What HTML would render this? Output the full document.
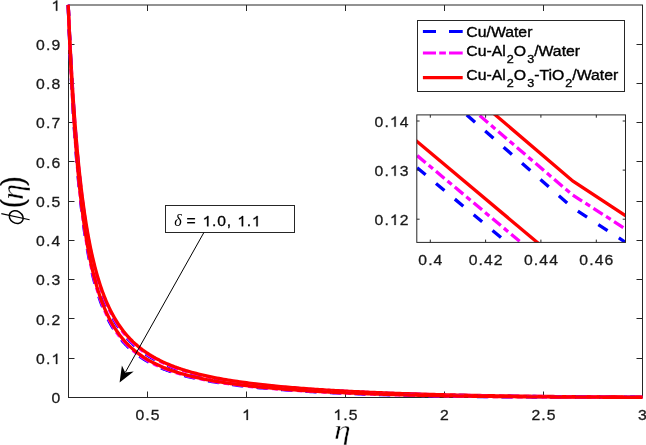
<!DOCTYPE html>
<html><head><meta charset="utf-8"><style>html,body{margin:0;padding:0;background:#fff;overflow:hidden}svg{display:block}</style></head>
<body><div style="will-change:transform"><svg width="646" height="445" viewBox="0 0 646 445">
<rect width="646" height="445" fill="#fff"/>
<defs><clipPath id="cm"><rect x="66.2" y="1.9000000000000004" width="578.1999999999999" height="398.55"/></clipPath><clipPath id="ci"><rect x="416.8" y="114.9" width="208.7" height="127.5"/></clipPath></defs>
<rect x="68.5" y="5" width="574" height="392.5" fill="none" stroke="#262626" stroke-width="1"/>
<path d="M147.5,397.5 v-6 M147.5,5 v6" stroke="#262626"/>
<path d="M246.5,397.5 v-6 M246.5,5 v6" stroke="#262626"/>
<path d="M345.5,397.5 v-6 M345.5,5 v6" stroke="#262626"/>
<path d="M444.5,397.5 v-6 M444.5,5 v6" stroke="#262626"/>
<path d="M543.5,397.5 v-6 M543.5,5 v6" stroke="#262626"/>
<path d="M68.5,358.5 h6 M642.5,358.5 h-6" stroke="#262626"/>
<path d="M68.5,318.5 h6 M642.5,318.5 h-6" stroke="#262626"/>
<path d="M68.5,279.5 h6 M642.5,279.5 h-6" stroke="#262626"/>
<path d="M68.5,240.5 h6 M642.5,240.5 h-6" stroke="#262626"/>
<path d="M68.5,201.5 h6 M642.5,201.5 h-6" stroke="#262626"/>
<path d="M68.5,161.5 h6 M642.5,161.5 h-6" stroke="#262626"/>
<path d="M68.5,122.5 h6 M642.5,122.5 h-6" stroke="#262626"/>
<path d="M68.5,83.5 h6 M642.5,83.5 h-6" stroke="#262626"/>
<path d="M68.5,44.5 h6 M642.5,44.5 h-6" stroke="#262626"/>
<g clip-path="url(#cm)" fill="none" stroke-width="3.30">
<path d="M68.20,4.90 L68.37,8.83 L68.53,12.70 L68.70,16.50 L68.86,20.25 L69.03,23.93 L69.19,27.56 L69.36,31.14 L69.52,34.65 L69.69,38.12 L69.85,41.53 L70.02,44.89 L70.18,48.20 L70.34,51.46 L70.51,54.67 L70.67,57.83 L70.84,60.95 L71.00,64.02 L71.17,67.05 L71.34,70.03 L71.50,72.97 L71.67,75.87 L71.83,78.72 L72.00,81.54 L72.16,84.31 L72.33,87.05 L72.49,89.75 L72.66,92.41 L72.82,95.03 L72.98,97.62 L73.15,100.17 L73.31,102.69 L73.48,105.17 L73.64,107.62 L73.81,110.04 L73.98,112.42 L74.14,114.78 L74.31,117.10 L74.47,119.39 L74.64,121.65 L74.80,123.88 L74.97,126.08 L75.13,128.26 L75.30,130.40 L75.46,132.52 L75.62,134.61 L75.79,136.68 L75.95,138.72 L76.12,140.73 L76.28,142.72 L76.45,144.68 L76.62,146.62 L76.78,148.54 L76.95,150.43 L77.11,152.30 L77.28,154.14 L77.44,155.96 L77.61,157.77 L77.77,159.54 L77.94,161.30 L78.10,163.04 L78.64,168.63 L79.19,174.01 L79.73,179.18 L80.28,184.16 L80.82,188.97 L81.37,193.59 L81.91,198.06 L82.46,202.36 L83.00,206.52 L83.55,210.54 L84.09,214.42 L84.63,218.17 L85.18,221.80 L85.72,225.31 L86.27,228.70 L86.81,231.99 L87.36,235.18 L87.90,238.26 L88.45,241.26 L88.99,244.16 L89.53,246.97 L90.08,249.70 L90.62,252.35 L91.17,254.93 L91.71,257.43 L92.26,259.86 L92.80,262.22 L93.35,264.51 L93.89,266.74 L94.44,268.92 L94.98,271.03 L95.52,273.09 L96.07,275.09 L96.61,277.04 L97.16,278.94 L97.70,280.79 L98.25,282.59 L98.79,284.35 L99.34,286.07 L99.88,287.74 L100.42,289.37 L100.97,290.97 L101.51,292.52 L102.06,294.04 L102.60,295.52 L103.15,296.97 L103.69,298.38 L104.24,299.76 L104.78,301.11 L105.32,302.43 L105.87,303.72 L106.41,304.99 L106.96,306.22 L107.50,307.43 L108.05,308.61 L108.59,309.76 L109.14,310.90 L109.68,312.00 L110.23,313.09 L110.77,314.15 L111.31,315.19 L111.86,316.21 L112.40,317.21 L112.95,318.19 L113.49,319.15 L114.04,320.09 L114.58,321.01 L115.13,321.91 L115.67,322.80 L116.22,323.67 L116.76,324.52 L117.30,325.36 L117.85,326.18 L118.39,326.99 L118.94,327.78 L119.48,328.56 L120.03,329.32 L120.57,330.07 L121.12,330.80 L121.66,331.53 L122.20,332.24 L122.75,332.93 L123.29,333.62 L123.84,334.29 L124.38,334.96 L124.93,335.61 L125.47,336.25 L126.02,336.88 L126.56,337.49 L127.10,338.10 L127.65,338.70 L128.19,339.29 L128.74,339.87 L129.28,340.44 L129.83,341.00 L130.37,341.55 L130.92,342.09 L131.46,342.63 L132.01,343.15 L132.55,343.67 L133.09,344.18 L133.64,344.68 L134.18,345.18 L134.73,345.66 L135.27,346.14 L135.82,346.62 L136.36,347.08 L136.91,347.54 L137.45,347.99 L138.00,348.44 L138.54,348.88 L139.08,349.31 L139.63,349.73 L140.17,350.15 L140.72,350.57 L141.26,350.98 L141.81,351.38 L142.35,351.78 L142.90,352.17 L143.44,352.56 L143.98,352.94 L144.53,353.31 L145.07,353.68 L145.62,354.05 L146.16,354.41 L146.71,354.77 L147.25,355.12 L147.80,355.47 L148.34,355.81 L148.88,356.15 L149.43,356.48 L149.97,356.81 L150.52,357.13 L151.06,357.46 L151.61,357.77 L152.15,358.09 L152.70,358.39 L153.24,358.70 L153.79,359.00 L154.33,359.30 L154.87,359.59 L155.42,359.88 L155.96,360.17 L156.51,360.45 L157.05,360.74 L157.60,361.01 L158.14,361.29 L158.69,361.56 L159.23,361.82 L159.78,362.09 L160.32,362.35 L160.86,362.61 L161.41,362.86 L161.95,363.12 L162.50,363.36 L163.04,363.61 L163.59,363.86 L164.13,364.10 L164.68,364.33 L165.22,364.57 L165.76,364.80 L166.31,365.03 L166.85,365.26 L167.40,365.49 L167.94,365.71 L168.49,365.93 L169.03,366.15 L169.58,366.37 L170.12,366.58 L170.66,366.79 L171.21,367.00 L171.75,367.21 L172.30,367.41 L172.84,367.62 L173.39,367.82 L173.93,368.02 L174.48,368.21 L175.02,368.41 L175.57,368.60 L176.11,368.79 L176.65,368.98 L177.20,369.17 L177.74,369.35 L178.29,369.54 L178.83,369.72 L179.38,369.90 L179.92,370.08 L180.47,370.25 L181.01,370.43 L181.56,370.60 L182.10,370.77 L182.64,370.94 L183.19,371.11 L183.73,371.28 L184.28,371.44 L184.82,371.61 L185.37,371.77 L185.91,371.93 L186.46,372.09 L187.00,372.25 L189.29,372.89 L191.58,373.51 L193.87,374.11 L196.15,374.69 L198.44,375.25 L200.73,375.79 L203.02,376.31 L205.31,376.81 L207.60,377.30 L209.88,377.77 L212.17,378.22 L214.46,378.67 L216.75,379.09 L219.04,379.51 L221.33,379.91 L223.62,380.30 L225.90,380.68 L228.19,381.05 L230.48,381.40 L232.77,381.75 L235.06,382.09 L237.35,382.42 L239.63,382.74 L241.92,383.05 L244.21,383.35 L246.50,383.65 L248.79,383.93 L251.08,384.21 L253.36,384.49 L255.65,384.75 L257.94,385.01 L260.23,385.27 L262.52,385.51 L264.81,385.76 L267.10,385.99 L269.38,386.22 L271.67,386.45 L273.96,386.67 L276.25,386.88 L278.54,387.09 L280.83,387.30 L283.11,387.50 L285.40,387.70 L287.69,387.89 L289.98,388.08 L292.27,388.27 L294.56,388.45 L296.85,388.62 L299.13,388.80 L301.42,388.97 L303.71,389.13 L306.00,389.30 L308.29,389.46 L310.58,389.61 L312.86,389.77 L315.15,389.92 L317.44,390.06 L319.73,390.21 L322.02,390.35 L324.31,390.49 L326.59,390.63 L328.88,390.76 L331.17,390.89 L333.46,391.02 L335.75,391.14 L338.04,391.27 L340.33,391.39 L342.61,391.51 L344.90,391.63 L347.19,391.74 L349.48,391.85 L351.77,391.96 L354.06,392.07 L356.34,392.18 L358.63,392.28 L360.92,392.39 L363.21,392.49 L365.50,392.59 L367.79,392.68 L370.08,392.78 L372.36,392.87 L374.65,392.97 L376.94,393.06 L379.23,393.14 L381.52,393.23 L383.81,393.32 L386.09,393.40 L388.38,393.48 L390.67,393.56 L392.96,393.64 L395.25,393.72 L397.54,393.80 L399.83,393.87 L402.11,393.95 L404.40,394.02 L406.69,394.09 L408.98,394.16 L411.27,394.23 L413.56,394.30 L415.84,394.36 L418.13,394.43 L420.42,394.49 L422.71,394.55 L425.00,394.62 L427.29,394.68 L429.57,394.73 L431.86,394.79 L434.15,394.85 L436.44,394.91 L438.73,394.96 L441.02,395.01 L443.31,395.07 L445.59,395.12 L447.88,395.17 L450.17,395.22 L452.46,395.27 L454.75,395.32 L457.04,395.36 L459.32,395.41 L461.61,395.46 L463.90,395.50 L466.19,395.54 L468.48,395.59 L470.77,395.63 L473.06,395.67 L475.34,395.71 L477.63,395.75 L479.92,395.79 L482.21,395.83 L484.50,395.86 L486.79,395.90 L489.07,395.94 L491.36,395.97 L493.65,396.01 L495.94,396.04 L498.23,396.07 L500.52,396.11 L502.81,396.14 L505.09,396.17 L507.38,396.20 L509.67,396.23 L511.96,396.26 L514.25,396.29 L516.54,396.31 L518.82,396.34 L521.11,396.37 L523.40,396.40 L525.69,396.42 L527.98,396.45 L530.27,396.47 L532.55,396.49 L534.84,396.52 L537.13,396.54 L539.42,396.56 L541.71,396.59 L544.00,396.61 L546.29,396.63 L548.57,396.65 L550.86,396.67 L553.15,396.69 L555.44,396.71 L557.73,396.73 L560.02,396.75 L562.30,396.77 L564.59,396.78 L566.88,396.80 L569.17,396.82 L571.46,396.83 L573.75,396.85 L576.04,396.87 L578.32,396.88 L580.61,396.90 L582.90,396.91 L585.19,396.93 L587.48,396.94 L589.77,396.95 L592.05,396.97 L594.34,396.98 L596.63,396.99 L598.92,397.01 L601.21,397.02 L603.50,397.03 L605.78,397.04 L608.07,397.05 L610.36,397.06 L612.65,397.07 L614.94,397.08 L617.23,397.09 L619.52,397.10 L621.80,397.11 L624.09,397.12 L626.38,397.13 L628.67,397.14 L630.96,397.15 L633.25,397.16 L635.53,397.17 L637.82,397.18 L640.11,397.18 L642.40,397.19" stroke="#0000ff" stroke-dasharray="11 13.5"/>
<path d="M68.20,4.90 L68.37,8.76 L68.53,12.56 L68.70,16.31 L68.86,19.99 L69.03,23.62 L69.19,27.19 L69.36,30.71 L69.52,34.17 L69.69,37.58 L69.85,40.94 L70.02,44.25 L70.18,47.51 L70.34,50.73 L70.51,53.89 L70.67,57.02 L70.84,60.09 L71.00,63.12 L71.17,66.11 L71.34,69.05 L71.50,71.96 L71.67,74.82 L71.83,77.64 L72.00,80.42 L72.16,83.16 L72.33,85.87 L72.49,88.54 L72.66,91.17 L72.82,93.76 L72.98,96.32 L73.15,98.85 L73.31,101.34 L73.48,103.80 L73.64,106.23 L73.81,108.62 L73.98,110.98 L74.14,113.31 L74.31,115.61 L74.47,117.88 L74.64,120.12 L74.80,122.34 L74.97,124.52 L75.13,126.68 L75.30,128.81 L75.46,130.91 L75.62,132.98 L75.79,135.03 L75.95,137.06 L76.12,139.06 L76.28,141.03 L76.45,142.98 L76.62,144.91 L76.78,146.81 L76.95,148.69 L77.11,150.55 L77.28,152.38 L77.44,154.20 L77.61,155.99 L77.77,157.76 L77.94,159.51 L78.10,161.23 L78.64,166.80 L79.19,172.15 L79.73,177.30 L80.28,182.27 L80.82,187.06 L81.37,191.68 L81.91,196.13 L82.46,200.43 L83.00,204.58 L83.55,208.60 L84.09,212.47 L84.63,216.22 L85.18,219.85 L85.72,223.36 L86.27,226.76 L86.81,230.06 L87.36,233.25 L87.90,236.34 L88.45,239.34 L88.99,242.25 L89.53,245.07 L90.08,247.81 L90.62,250.47 L91.17,253.05 L91.71,255.56 L92.26,258.00 L92.80,260.37 L93.35,262.68 L93.89,264.92 L94.44,267.11 L94.98,269.23 L95.52,271.30 L96.07,273.32 L96.61,275.28 L97.16,277.19 L97.70,279.05 L98.25,280.87 L98.79,282.64 L99.34,284.37 L99.88,286.06 L100.42,287.70 L100.97,289.31 L101.51,290.87 L102.06,292.40 L102.60,293.90 L103.15,295.36 L103.69,296.78 L104.24,298.18 L104.78,299.54 L105.32,300.87 L105.87,302.17 L106.41,303.45 L106.96,304.69 L107.50,305.91 L108.05,307.11 L108.59,308.27 L109.14,309.42 L109.68,310.54 L110.23,311.63 L110.77,312.71 L111.31,313.76 L111.86,314.79 L112.40,315.80 L112.95,316.79 L113.49,317.76 L114.04,318.71 L114.58,319.64 L115.13,320.56 L115.67,321.45 L116.22,322.34 L116.76,323.20 L117.30,324.05 L117.85,324.88 L118.39,325.69 L118.94,326.50 L119.48,327.28 L120.03,328.05 L120.57,328.81 L121.12,329.56 L121.66,330.29 L122.20,331.01 L122.75,331.72 L123.29,332.41 L123.84,333.09 L124.38,333.76 L124.93,334.42 L125.47,335.07 L126.02,335.71 L126.56,336.34 L127.10,336.95 L127.65,337.56 L128.19,338.16 L128.74,338.74 L129.28,339.32 L129.83,339.89 L130.37,340.45 L130.92,341.00 L131.46,341.54 L132.01,342.08 L132.55,342.60 L133.09,343.12 L133.64,343.63 L134.18,344.13 L134.73,344.62 L135.27,345.11 L135.82,345.59 L136.36,346.06 L136.91,346.53 L137.45,346.99 L138.00,347.44 L138.54,347.88 L139.08,348.32 L139.63,348.76 L140.17,349.18 L140.72,349.60 L141.26,350.02 L141.81,350.43 L142.35,350.83 L142.90,351.23 L143.44,351.62 L143.98,352.01 L144.53,352.39 L145.07,352.77 L145.62,353.14 L146.16,353.51 L146.71,353.87 L147.25,354.23 L147.80,354.58 L148.34,354.93 L148.88,355.27 L149.43,355.61 L149.97,355.94 L150.52,356.27 L151.06,356.60 L151.61,356.92 L152.15,357.24 L152.70,357.55 L153.24,357.86 L153.79,358.17 L154.33,358.47 L154.87,358.77 L155.42,359.07 L155.96,359.36 L156.51,359.65 L157.05,359.93 L157.60,360.22 L158.14,360.49 L158.69,360.77 L159.23,361.04 L159.78,361.31 L160.32,361.58 L160.86,361.84 L161.41,362.10 L161.95,362.35 L162.50,362.61 L163.04,362.86 L163.59,363.11 L164.13,363.35 L164.68,363.59 L165.22,363.83 L165.76,364.07 L166.31,364.31 L166.85,364.54 L167.40,364.77 L167.94,364.99 L168.49,365.22 L169.03,365.44 L169.58,365.66 L170.12,365.88 L170.66,366.09 L171.21,366.31 L171.75,366.52 L172.30,366.73 L172.84,366.93 L173.39,367.14 L173.93,367.34 L174.48,367.54 L175.02,367.74 L175.57,367.93 L176.11,368.13 L176.65,368.32 L177.20,368.51 L177.74,368.70 L178.29,368.89 L178.83,369.07 L179.38,369.26 L179.92,369.44 L180.47,369.62 L181.01,369.79 L181.56,369.97 L182.10,370.14 L182.64,370.32 L183.19,370.49 L183.73,370.66 L184.28,370.83 L184.82,370.99 L185.37,371.16 L185.91,371.32 L186.46,371.48 L187.00,371.64 L189.29,372.30 L191.58,372.93 L193.87,373.54 L196.15,374.13 L198.44,374.70 L200.73,375.25 L203.02,375.78 L205.31,376.29 L207.60,376.79 L209.88,377.26 L212.17,377.73 L214.46,378.18 L216.75,378.61 L219.04,379.03 L221.33,379.44 L223.62,379.84 L225.90,380.22 L228.19,380.60 L230.48,380.96 L232.77,381.32 L235.06,381.66 L237.35,381.99 L239.63,382.32 L241.92,382.64 L244.21,382.94 L246.50,383.24 L248.79,383.54 L251.08,383.82 L253.36,384.10 L255.65,384.37 L257.94,384.64 L260.23,384.90 L262.52,385.15 L264.81,385.39 L267.10,385.63 L269.38,385.87 L271.67,386.10 L273.96,386.32 L276.25,386.54 L278.54,386.76 L280.83,386.97 L283.11,387.17 L285.40,387.37 L287.69,387.57 L289.98,387.76 L292.27,387.95 L294.56,388.13 L296.85,388.31 L299.13,388.49 L301.42,388.66 L303.71,388.83 L306.00,389.00 L308.29,389.16 L310.58,389.32 L312.86,389.48 L315.15,389.63 L317.44,389.78 L319.73,389.93 L322.02,390.07 L324.31,390.22 L326.59,390.36 L328.88,390.49 L331.17,390.63 L333.46,390.76 L335.75,390.89 L338.04,391.01 L340.33,391.14 L342.61,391.26 L344.90,391.38 L347.19,391.50 L349.48,391.61 L351.77,391.72 L354.06,391.84 L356.34,391.94 L358.63,392.05 L360.92,392.16 L363.21,392.26 L365.50,392.36 L367.79,392.46 L370.08,392.56 L372.36,392.66 L374.65,392.75 L376.94,392.84 L379.23,392.93 L381.52,393.02 L383.81,393.11 L386.09,393.20 L388.38,393.28 L390.67,393.36 L392.96,393.45 L395.25,393.53 L397.54,393.60 L399.83,393.68 L402.11,393.76 L404.40,393.83 L406.69,393.91 L408.98,393.98 L411.27,394.05 L413.56,394.12 L415.84,394.19 L418.13,394.25 L420.42,394.32 L422.71,394.38 L425.00,394.45 L427.29,394.51 L429.57,394.57 L431.86,394.63 L434.15,394.69 L436.44,394.75 L438.73,394.80 L441.02,394.86 L443.31,394.91 L445.59,394.97 L447.88,395.02 L450.17,395.07 L452.46,395.12 L454.75,395.17 L457.04,395.22 L459.32,395.27 L461.61,395.32 L463.90,395.36 L466.19,395.41 L468.48,395.45 L470.77,395.50 L473.06,395.54 L475.34,395.58 L477.63,395.62 L479.92,395.67 L482.21,395.71 L484.50,395.74 L486.79,395.78 L489.07,395.82 L491.36,395.86 L493.65,395.89 L495.94,395.93 L498.23,395.96 L500.52,396.00 L502.81,396.03 L505.09,396.06 L507.38,396.09 L509.67,396.13 L511.96,396.16 L514.25,396.19 L516.54,396.22 L518.82,396.25 L521.11,396.27 L523.40,396.30 L525.69,396.33 L527.98,396.36 L530.27,396.38 L532.55,396.41 L534.84,396.43 L537.13,396.46 L539.42,396.48 L541.71,396.50 L544.00,396.53 L546.29,396.55 L548.57,396.57 L550.86,396.59 L553.15,396.62 L555.44,396.64 L557.73,396.66 L560.02,396.68 L562.30,396.70 L564.59,396.71 L566.88,396.73 L569.17,396.75 L571.46,396.77 L573.75,396.79 L576.04,396.80 L578.32,396.82 L580.61,396.84 L582.90,396.85 L585.19,396.87 L587.48,396.88 L589.77,396.90 L592.05,396.91 L594.34,396.93 L596.63,396.94 L598.92,396.95 L601.21,396.97 L603.50,396.98 L605.78,396.99 L608.07,397.00 L610.36,397.02 L612.65,397.03 L614.94,397.04 L617.23,397.05 L619.52,397.06 L621.80,397.07 L624.09,397.08 L626.38,397.09 L628.67,397.10 L630.96,397.11 L633.25,397.12 L635.53,397.13 L637.82,397.14 L640.11,397.15 L642.40,397.16" stroke="#ff00ff" stroke-dasharray="11 4 5.5 4"/>
<path d="M68.20,4.90 L68.37,8.68 L68.53,12.41 L68.70,16.08 L68.86,19.69 L69.03,23.25 L69.19,26.75 L69.36,30.20 L69.52,33.60 L69.69,36.95 L69.85,40.26 L70.02,43.51 L70.18,46.71 L70.34,49.87 L70.51,52.99 L70.67,56.06 L70.84,59.08 L71.00,62.07 L71.17,65.01 L71.34,67.91 L71.50,70.77 L71.67,73.59 L71.83,76.37 L72.00,79.11 L72.16,81.81 L72.33,84.48 L72.49,87.11 L72.66,89.71 L72.82,92.27 L72.98,94.80 L73.15,97.29 L73.31,99.76 L73.48,102.18 L73.64,104.58 L73.81,106.95 L73.98,109.28 L74.14,111.59 L74.31,113.86 L74.47,116.11 L74.64,118.33 L74.80,120.52 L74.97,122.68 L75.13,124.82 L75.30,126.93 L75.46,129.01 L75.62,131.06 L75.79,133.10 L75.95,135.10 L76.12,137.08 L76.28,139.04 L76.45,140.98 L76.62,142.89 L76.78,144.78 L76.95,146.64 L77.11,148.48 L77.28,150.31 L77.44,152.11 L77.61,153.88 L77.77,155.64 L77.94,157.38 L78.10,159.10 L78.64,164.63 L79.19,169.95 L79.73,175.08 L80.28,180.03 L80.82,184.80 L81.37,189.40 L81.91,193.84 L82.46,198.13 L83.00,202.28 L83.55,206.29 L84.09,210.16 L84.63,213.91 L85.18,217.54 L85.72,221.05 L86.27,224.46 L86.81,227.75 L87.36,230.95 L87.90,234.05 L88.45,237.05 L88.99,239.97 L89.53,242.80 L90.08,245.55 L90.62,248.22 L91.17,250.82 L91.71,253.34 L92.26,255.79 L92.80,258.17 L93.35,260.49 L93.89,262.75 L94.44,264.94 L94.98,267.08 L95.52,269.17 L96.07,271.19 L96.61,273.17 L97.16,275.10 L97.70,276.97 L98.25,278.81 L98.79,280.59 L99.34,282.33 L99.88,284.03 L100.42,285.69 L100.97,287.31 L101.51,288.89 L102.06,290.44 L102.60,291.95 L103.15,293.42 L103.69,294.86 L104.24,296.27 L104.78,297.65 L105.32,298.99 L105.87,300.31 L106.41,301.60 L106.96,302.86 L107.50,304.09 L108.05,305.30 L108.59,306.48 L109.14,307.64 L109.68,308.77 L110.23,309.88 L110.77,310.97 L111.31,312.03 L111.86,313.08 L112.40,314.10 L112.95,315.10 L113.49,316.09 L114.04,317.05 L114.58,318.00 L115.13,318.92 L115.67,319.83 L116.22,320.73 L116.76,321.60 L117.30,322.46 L117.85,323.31 L118.39,324.13 L118.94,324.95 L119.48,325.74 L120.03,326.53 L120.57,327.30 L121.12,328.06 L121.66,328.80 L122.20,329.53 L122.75,330.25 L123.29,330.95 L123.84,331.65 L124.38,332.33 L124.93,333.00 L125.47,333.66 L126.02,334.30 L126.56,334.94 L127.10,335.57 L127.65,336.18 L128.19,336.79 L128.74,337.39 L129.28,337.97 L129.83,338.55 L130.37,339.12 L130.92,339.68 L131.46,340.23 L132.01,340.78 L132.55,341.31 L133.09,341.84 L133.64,342.35 L134.18,342.86 L134.73,343.37 L135.27,343.86 L135.82,344.35 L136.36,344.83 L136.91,345.31 L137.45,345.77 L138.00,346.23 L138.54,346.69 L139.08,347.13 L139.63,347.57 L140.17,348.01 L140.72,348.44 L141.26,348.86 L141.81,349.28 L142.35,349.69 L142.90,350.09 L143.44,350.49 L143.98,350.89 L144.53,351.28 L145.07,351.66 L145.62,352.04 L146.16,352.41 L146.71,352.78 L147.25,353.14 L147.80,353.50 L148.34,353.86 L148.88,354.21 L149.43,354.55 L149.97,354.89 L150.52,355.23 L151.06,355.56 L151.61,355.89 L152.15,356.22 L152.70,356.54 L153.24,356.85 L153.79,357.17 L154.33,357.48 L154.87,357.78 L155.42,358.08 L155.96,358.38 L156.51,358.67 L157.05,358.96 L157.60,359.25 L158.14,359.53 L158.69,359.82 L159.23,360.09 L159.78,360.37 L160.32,360.64 L160.86,360.91 L161.41,361.17 L161.95,361.43 L162.50,361.69 L163.04,361.95 L163.59,362.20 L164.13,362.45 L164.68,362.70 L165.22,362.94 L165.76,363.18 L166.31,363.42 L166.85,363.66 L167.40,363.89 L167.94,364.13 L168.49,364.36 L169.03,364.58 L169.58,364.81 L170.12,365.03 L170.66,365.25 L171.21,365.47 L171.75,365.68 L172.30,365.89 L172.84,366.10 L173.39,366.31 L173.93,366.52 L174.48,366.72 L175.02,366.93 L175.57,367.13 L176.11,367.32 L176.65,367.52 L177.20,367.72 L177.74,367.91 L178.29,368.10 L178.83,368.29 L179.38,368.47 L179.92,368.66 L180.47,368.84 L181.01,369.02 L181.56,369.20 L182.10,369.38 L182.64,369.56 L183.19,369.73 L183.73,369.91 L184.28,370.08 L184.82,370.25 L185.37,370.42 L185.91,370.58 L186.46,370.75 L187.00,370.91 L189.29,371.58 L191.58,372.23 L193.87,372.85 L196.15,373.45 L198.44,374.03 L200.73,374.59 L203.02,375.13 L205.31,375.66 L207.60,376.16 L209.88,376.65 L212.17,377.13 L214.46,377.58 L216.75,378.03 L219.04,378.46 L221.33,378.88 L223.62,379.28 L225.90,379.68 L228.19,380.06 L230.48,380.43 L232.77,380.79 L235.06,381.14 L237.35,381.48 L239.63,381.81 L241.92,382.14 L244.21,382.45 L246.50,382.76 L248.79,383.06 L251.08,383.35 L253.36,383.63 L255.65,383.91 L257.94,384.18 L260.23,384.45 L262.52,384.70 L264.81,384.95 L267.10,385.20 L269.38,385.44 L271.67,385.68 L273.96,385.90 L276.25,386.13 L278.54,386.35 L280.83,386.56 L283.11,386.77 L285.40,386.98 L287.69,387.18 L289.98,387.37 L292.27,387.57 L294.56,387.75 L296.85,387.94 L299.13,388.12 L301.42,388.30 L303.71,388.47 L306.00,388.64 L308.29,388.81 L310.58,388.97 L312.86,389.13 L315.15,389.29 L317.44,389.44 L319.73,389.59 L322.02,389.74 L324.31,389.89 L326.59,390.03 L328.88,390.17 L331.17,390.31 L333.46,390.44 L335.75,390.57 L338.04,390.70 L340.33,390.83 L342.61,390.95 L344.90,391.08 L347.19,391.20 L349.48,391.32 L351.77,391.43 L354.06,391.55 L356.34,391.66 L358.63,391.77 L360.92,391.88 L363.21,391.98 L365.50,392.09 L367.79,392.19 L370.08,392.29 L372.36,392.39 L374.65,392.49 L376.94,392.58 L379.23,392.67 L381.52,392.77 L383.81,392.86 L386.09,392.95 L388.38,393.03 L390.67,393.12 L392.96,393.20 L395.25,393.29 L397.54,393.37 L399.83,393.45 L402.11,393.53 L404.40,393.60 L406.69,393.68 L408.98,393.75 L411.27,393.83 L413.56,393.90 L415.84,393.97 L418.13,394.04 L420.42,394.11 L422.71,394.17 L425.00,394.24 L427.29,394.30 L429.57,394.37 L431.86,394.43 L434.15,394.49 L436.44,394.55 L438.73,394.61 L441.02,394.67 L443.31,394.73 L445.59,394.78 L447.88,394.84 L450.17,394.89 L452.46,394.94 L454.75,395.00 L457.04,395.05 L459.32,395.10 L461.61,395.15 L463.90,395.20 L466.19,395.24 L468.48,395.29 L470.77,395.34 L473.06,395.38 L475.34,395.43 L477.63,395.47 L479.92,395.51 L482.21,395.55 L484.50,395.59 L486.79,395.63 L489.07,395.67 L491.36,395.71 L493.65,395.75 L495.94,395.79 L498.23,395.82 L500.52,395.86 L502.81,395.90 L505.09,395.93 L507.38,395.96 L509.67,396.00 L511.96,396.03 L514.25,396.06 L516.54,396.09 L518.82,396.12 L521.11,396.15 L523.40,396.18 L525.69,396.21 L527.98,396.24 L530.27,396.27 L532.55,396.30 L534.84,396.32 L537.13,396.35 L539.42,396.38 L541.71,396.40 L544.00,396.43 L546.29,396.45 L548.57,396.47 L550.86,396.50 L553.15,396.52 L555.44,396.54 L557.73,396.56 L560.02,396.59 L562.30,396.61 L564.59,396.63 L566.88,396.65 L569.17,396.67 L571.46,396.69 L573.75,396.70 L576.04,396.72 L578.32,396.74 L580.61,396.76 L582.90,396.78 L585.19,396.79 L587.48,396.81 L589.77,396.82 L592.05,396.84 L594.34,396.86 L596.63,396.87 L598.92,396.89 L601.21,396.90 L603.50,396.91 L605.78,396.93 L608.07,396.94 L610.36,396.95 L612.65,396.97 L614.94,396.98 L617.23,396.99 L619.52,397.00 L621.80,397.02 L624.09,397.03 L626.38,397.04 L628.67,397.05 L630.96,397.06 L633.25,397.07 L635.53,397.08 L637.82,397.09 L640.11,397.10 L642.40,397.11" stroke="#ff0000"/>
<path d="M68.20,4.90 L68.37,9.36 L68.53,13.73 L68.70,18.03 L68.86,22.25 L69.03,26.39 L69.19,30.46 L69.36,34.47 L69.52,38.40 L69.69,42.26 L69.85,46.06 L70.02,49.79 L70.18,53.46 L70.34,57.07 L70.51,60.61 L70.67,64.10 L70.84,67.53 L71.00,70.91 L71.17,74.23 L71.34,77.49 L71.50,80.70 L71.67,83.86 L71.83,86.98 L72.00,90.04 L72.16,93.05 L72.33,96.01 L72.49,98.93 L72.66,101.81 L72.82,104.64 L72.98,107.42 L73.15,110.17 L73.31,112.87 L73.48,115.53 L73.64,118.15 L73.81,120.74 L73.98,123.28 L74.14,125.79 L74.31,128.26 L74.47,130.69 L74.64,133.09 L74.80,135.45 L74.97,137.78 L75.13,140.08 L75.30,142.34 L75.46,144.58 L75.62,146.78 L75.79,148.95 L75.95,151.09 L76.12,153.20 L76.28,155.28 L76.45,157.33 L76.62,159.35 L76.78,161.35 L76.95,163.32 L77.11,165.26 L77.28,167.18 L77.44,169.07 L77.61,170.94 L77.77,172.78 L77.94,174.60 L78.10,176.40 L78.64,182.15 L79.19,187.67 L79.73,192.97 L80.28,198.05 L80.82,202.92 L81.37,207.61 L81.91,212.12 L82.46,216.45 L83.00,220.62 L83.55,224.64 L84.09,228.51 L84.63,232.25 L85.18,235.84 L85.72,239.32 L86.27,242.67 L86.81,245.91 L87.36,249.04 L87.90,252.06 L88.45,254.99 L88.99,257.82 L89.53,260.56 L90.08,263.21 L90.62,265.78 L91.17,268.27 L91.71,270.69 L92.26,273.03 L92.80,275.30 L93.35,277.50 L93.89,279.64 L94.44,281.72 L94.98,283.74 L95.52,285.70 L96.07,287.60 L96.61,289.46 L97.16,291.26 L97.70,293.01 L98.25,294.72 L98.79,296.38 L99.34,298.00 L99.88,299.58 L100.42,301.11 L100.97,302.61 L101.51,304.06 L102.06,305.49 L102.60,306.87 L103.15,308.23 L103.69,309.55 L104.24,310.83 L104.78,312.09 L105.32,313.32 L105.87,314.52 L106.41,315.69 L106.96,316.83 L107.50,317.95 L108.05,319.04 L108.59,320.11 L109.14,321.16 L109.68,322.18 L110.23,323.18 L110.77,324.15 L111.31,325.11 L111.86,326.05 L112.40,326.97 L112.95,327.86 L113.49,328.74 L114.04,329.60 L114.58,330.45 L115.13,331.27 L115.67,332.08 L116.22,332.88 L116.76,333.66 L117.30,334.42 L117.85,335.17 L118.39,335.90 L118.94,336.62 L119.48,337.33 L120.03,338.02 L120.57,338.70 L121.12,339.37 L121.66,340.02 L122.20,340.66 L122.75,341.30 L123.29,341.92 L123.84,342.52 L124.38,343.12 L124.93,343.71 L125.47,344.29 L126.02,344.86 L126.56,345.41 L127.10,345.96 L127.65,346.50 L128.19,347.03 L128.74,347.55 L129.28,348.06 L129.83,348.57 L130.37,349.06 L130.92,349.55 L131.46,350.03 L132.01,350.50 L132.55,350.97 L133.09,351.42 L133.64,351.87 L134.18,352.32 L134.73,352.75 L135.27,353.18 L135.82,353.60 L136.36,354.02 L136.91,354.43 L137.45,354.83 L138.00,355.23 L138.54,355.62 L139.08,356.01 L139.63,356.39 L140.17,356.76 L140.72,357.13 L141.26,357.50 L141.81,357.86 L142.35,358.21 L142.90,358.56 L143.44,358.90 L143.98,359.24 L144.53,359.58 L145.07,359.91 L145.62,360.23 L146.16,360.55 L146.71,360.87 L147.25,361.18 L147.80,361.49 L148.34,361.79 L148.88,362.09 L149.43,362.39 L149.97,362.68 L150.52,362.97 L151.06,363.26 L151.61,363.54 L152.15,363.82 L152.70,364.09 L153.24,364.36 L153.79,364.63 L154.33,364.89 L154.87,365.15 L155.42,365.41 L155.96,365.66 L156.51,365.91 L157.05,366.16 L157.60,366.41 L158.14,366.65 L158.69,366.89 L159.23,367.13 L159.78,367.36 L160.32,367.59 L160.86,367.82 L161.41,368.04 L161.95,368.27 L162.50,368.49 L163.04,368.71 L163.59,368.92 L164.13,369.13 L164.68,369.34 L165.22,369.55 L165.76,369.76 L166.31,369.96 L166.85,370.16 L167.40,370.36 L167.94,370.56 L168.49,370.75 L169.03,370.95 L169.58,371.14 L170.12,371.33 L170.66,371.51 L171.21,371.70 L171.75,371.88 L172.30,372.06 L172.84,372.24 L173.39,372.42 L173.93,372.59 L174.48,372.77 L175.02,372.94 L175.57,373.11 L176.11,373.28 L176.65,373.44 L177.20,373.61 L177.74,373.77 L178.29,373.93 L178.83,374.09 L179.38,374.25 L179.92,374.41 L180.47,374.56 L181.01,374.72 L181.56,374.87 L182.10,375.02 L182.64,375.17 L183.19,375.32 L183.73,375.47 L184.28,375.61 L184.82,375.76 L185.37,375.90 L185.91,376.04 L186.46,376.18 L187.00,376.32 L189.29,376.89 L191.58,377.43 L193.87,377.96 L196.15,378.47 L198.44,378.96 L200.73,379.44 L203.02,379.89 L205.31,380.34 L207.60,380.76 L209.88,381.18 L212.17,381.58 L214.46,381.97 L216.75,382.34 L219.04,382.71 L221.33,383.06 L223.62,383.40 L225.90,383.74 L228.19,384.06 L230.48,384.37 L232.77,384.68 L235.06,384.98 L237.35,385.26 L239.63,385.54 L241.92,385.82 L244.21,386.08 L246.50,386.34 L248.79,386.60 L251.08,386.84 L253.36,387.08 L255.65,387.31 L257.94,387.54 L260.23,387.76 L262.52,387.98 L264.81,388.19 L267.10,388.40 L269.38,388.60 L271.67,388.80 L273.96,388.99 L276.25,389.18 L278.54,389.36 L280.83,389.54 L283.11,389.72 L285.40,389.89 L287.69,390.06 L289.98,390.22 L292.27,390.38 L294.56,390.54 L296.85,390.69 L299.13,390.84 L301.42,390.99 L303.71,391.13 L306.00,391.27 L308.29,391.41 L310.58,391.55 L312.86,391.68 L315.15,391.81 L317.44,391.93 L319.73,392.06 L322.02,392.18 L324.31,392.30 L326.59,392.41 L328.88,392.53 L331.17,392.64 L333.46,392.75 L335.75,392.85 L338.04,392.96 L340.33,393.06 L342.61,393.16 L344.90,393.26 L347.19,393.36 L349.48,393.45 L351.77,393.54 L354.06,393.63 L356.34,393.72 L358.63,393.81 L360.92,393.89 L363.21,393.98 L365.50,394.06 L367.79,394.14 L370.08,394.22 L372.36,394.29 L374.65,394.37 L376.94,394.44 L379.23,394.51 L381.52,394.58 L383.81,394.65 L386.09,394.72 L388.38,394.79 L390.67,394.85 L392.96,394.92 L395.25,394.98 L397.54,395.04 L399.83,395.10 L402.11,395.16 L404.40,395.21 L406.69,395.27 L408.98,395.32 L411.27,395.38 L413.56,395.43 L415.84,395.48 L418.13,395.53 L420.42,395.58 L422.71,395.63 L425.00,395.67 L427.29,395.72 L429.57,395.76 L431.86,395.81 L434.15,395.85 L436.44,395.89 L438.73,395.93 L441.02,395.97 L443.31,396.01 L445.59,396.05 L447.88,396.09 L450.17,396.12 L452.46,396.16 L454.75,396.19 L457.04,396.23 L459.32,396.26 L461.61,396.29 L463.90,396.32 L466.19,396.36 L468.48,396.39 L470.77,396.42 L473.06,396.44 L475.34,396.47 L477.63,396.50 L479.92,396.53 L482.21,396.55 L484.50,396.58 L486.79,396.60 L489.07,396.63 L491.36,396.65 L493.65,396.67 L495.94,396.70 L498.23,396.72 L500.52,396.74 L502.81,396.76 L505.09,396.78 L507.38,396.80 L509.67,396.82 L511.96,396.84 L514.25,396.86 L516.54,396.87 L518.82,396.89 L521.11,396.91 L523.40,396.92 L525.69,396.94 L527.98,396.96 L530.27,396.97 L532.55,396.99 L534.84,397.00 L537.13,397.01 L539.42,397.03 L541.71,397.04 L544.00,397.05 L546.29,397.07 L548.57,397.08 L550.86,397.09 L553.15,397.10 L555.44,397.11 L557.73,397.12 L560.02,397.13 L562.30,397.14 L564.59,397.15 L566.88,397.16 L569.17,397.17 L571.46,397.18 L573.75,397.19 L576.04,397.20 L578.32,397.21 L580.61,397.22 L582.90,397.22 L585.19,397.23 L587.48,397.24 L589.77,397.25 L592.05,397.25 L594.34,397.26 L596.63,397.27 L598.92,397.27 L601.21,397.28 L603.50,397.28 L605.78,397.29 L608.07,397.30 L610.36,397.30 L612.65,397.31 L614.94,397.31 L617.23,397.32 L619.52,397.32 L621.80,397.33 L624.09,397.33 L626.38,397.33 L628.67,397.34 L630.96,397.34 L633.25,397.35 L635.53,397.35 L637.82,397.35 L640.11,397.36 L642.40,397.36" stroke="#0000ff" stroke-dasharray="11 13.5"/>
<path d="M68.20,4.90 L68.37,9.28 L68.53,13.58 L68.70,17.81 L68.86,21.96 L69.03,26.04 L69.19,30.04 L69.36,33.98 L69.52,37.86 L69.69,41.66 L69.85,45.40 L70.02,49.08 L70.18,52.70 L70.34,56.26 L70.51,59.76 L70.67,63.20 L70.84,66.59 L71.00,69.92 L71.17,73.20 L71.34,76.42 L71.50,79.60 L71.67,82.72 L71.83,85.80 L72.00,88.82 L72.16,91.80 L72.33,94.74 L72.49,97.62 L72.66,100.47 L72.82,103.27 L72.98,106.03 L73.15,108.75 L73.31,111.42 L73.48,114.06 L73.64,116.66 L73.81,119.22 L73.98,121.74 L74.14,124.23 L74.31,126.68 L74.47,129.09 L74.64,131.47 L74.80,133.82 L74.97,136.13 L75.13,138.41 L75.30,140.66 L75.46,142.88 L75.62,145.06 L75.79,147.22 L75.95,149.35 L76.12,151.44 L76.28,153.51 L76.45,155.55 L76.62,157.57 L76.78,159.55 L76.95,161.51 L77.11,163.45 L77.28,165.36 L77.44,167.24 L77.61,169.10 L77.77,170.93 L77.94,172.74 L78.10,174.53 L78.64,180.27 L79.19,185.77 L79.73,191.05 L80.28,196.12 L80.82,200.99 L81.37,205.67 L81.91,210.17 L82.46,214.51 L83.00,218.68 L83.55,222.70 L84.09,226.57 L84.63,230.31 L85.18,233.92 L85.72,237.40 L86.27,240.76 L86.81,244.00 L87.36,247.14 L87.90,250.18 L88.45,253.12 L88.99,255.96 L89.53,258.71 L90.08,261.37 L90.62,263.96 L91.17,266.46 L91.71,268.89 L92.26,271.24 L92.80,273.53 L93.35,275.74 L93.89,277.90 L94.44,279.99 L94.98,282.02 L95.52,284.00 L96.07,285.92 L96.61,287.78 L97.16,289.60 L97.70,291.37 L98.25,293.09 L98.79,294.77 L99.34,296.40 L99.88,297.99 L100.42,299.54 L100.97,301.05 L101.51,302.52 L102.06,303.95 L102.60,305.35 L103.15,306.72 L103.69,308.05 L104.24,309.35 L104.78,310.62 L105.32,311.86 L105.87,313.08 L106.41,314.26 L106.96,315.42 L107.50,316.55 L108.05,317.65 L108.59,318.73 L109.14,319.79 L109.68,320.82 L110.23,321.84 L110.77,322.83 L111.31,323.79 L111.86,324.74 L112.40,325.67 L112.95,326.58 L113.49,327.47 L114.04,328.34 L114.58,329.20 L115.13,330.03 L115.67,330.85 L116.22,331.66 L116.76,332.45 L117.30,333.22 L117.85,333.98 L118.39,334.72 L118.94,335.45 L119.48,336.17 L120.03,336.87 L120.57,337.56 L121.12,338.24 L121.66,338.90 L122.20,339.55 L122.75,340.19 L123.29,340.82 L123.84,341.44 L124.38,342.05 L124.93,342.64 L125.47,343.23 L126.02,343.80 L126.56,344.37 L127.10,344.93 L127.65,345.47 L128.19,346.01 L128.74,346.54 L129.28,347.06 L129.83,347.57 L130.37,348.07 L130.92,348.57 L131.46,349.06 L132.01,349.54 L132.55,350.01 L133.09,350.47 L133.64,350.93 L134.18,351.38 L134.73,351.82 L135.27,352.26 L135.82,352.69 L136.36,353.11 L136.91,353.52 L137.45,353.94 L138.00,354.34 L138.54,354.74 L139.08,355.13 L139.63,355.52 L140.17,355.90 L140.72,356.27 L141.26,356.64 L141.81,357.01 L142.35,357.37 L142.90,357.72 L143.44,358.07 L143.98,358.42 L144.53,358.76 L145.07,359.09 L145.62,359.42 L146.16,359.75 L146.71,360.07 L147.25,360.39 L147.80,360.70 L148.34,361.01 L148.88,361.32 L149.43,361.62 L149.97,361.91 L150.52,362.21 L151.06,362.50 L151.61,362.78 L152.15,363.07 L152.70,363.34 L153.24,363.62 L153.79,363.89 L154.33,364.16 L154.87,364.42 L155.42,364.69 L155.96,364.95 L156.51,365.20 L157.05,365.45 L157.60,365.70 L158.14,365.95 L158.69,366.19 L159.23,366.43 L159.78,366.67 L160.32,366.91 L160.86,367.14 L161.41,367.37 L161.95,367.59 L162.50,367.82 L163.04,368.04 L163.59,368.26 L164.13,368.48 L164.68,368.69 L165.22,368.90 L165.76,369.11 L166.31,369.32 L166.85,369.52 L167.40,369.73 L167.94,369.93 L168.49,370.13 L169.03,370.32 L169.58,370.52 L170.12,370.71 L170.66,370.90 L171.21,371.09 L171.75,371.27 L172.30,371.46 L172.84,371.64 L173.39,371.82 L173.93,372.00 L174.48,372.17 L175.02,372.35 L175.57,372.52 L176.11,372.69 L176.65,372.86 L177.20,373.03 L177.74,373.20 L178.29,373.36 L178.83,373.52 L179.38,373.68 L179.92,373.84 L180.47,374.00 L181.01,374.16 L181.56,374.31 L182.10,374.47 L182.64,374.62 L183.19,374.77 L183.73,374.92 L184.28,375.07 L184.82,375.21 L185.37,375.36 L185.91,375.50 L186.46,375.65 L187.00,375.79 L189.29,376.37 L191.58,376.92 L193.87,377.46 L196.15,377.98 L198.44,378.48 L200.73,378.96 L203.02,379.43 L205.31,379.88 L207.60,380.31 L209.88,380.73 L212.17,381.14 L214.46,381.54 L216.75,381.92 L219.04,382.29 L221.33,382.65 L223.62,383.00 L225.90,383.34 L228.19,383.67 L230.48,383.99 L232.77,384.30 L235.06,384.60 L237.35,384.89 L239.63,385.18 L241.92,385.46 L244.21,385.73 L246.50,385.99 L248.79,386.25 L251.08,386.50 L253.36,386.74 L255.65,386.98 L257.94,387.21 L260.23,387.44 L262.52,387.66 L264.81,387.88 L267.10,388.09 L269.38,388.29 L271.67,388.49 L273.96,388.69 L276.25,388.88 L278.54,389.07 L280.83,389.25 L283.11,389.43 L285.40,389.61 L287.69,389.78 L289.98,389.94 L292.27,390.11 L294.56,390.27 L296.85,390.42 L299.13,390.58 L301.42,390.73 L303.71,390.87 L306.00,391.02 L308.29,391.16 L310.58,391.30 L312.86,391.43 L315.15,391.56 L317.44,391.69 L319.73,391.82 L322.02,391.94 L324.31,392.06 L326.59,392.18 L328.88,392.30 L331.17,392.41 L333.46,392.53 L335.75,392.64 L338.04,392.74 L340.33,392.85 L342.61,392.95 L344.90,393.05 L347.19,393.15 L349.48,393.25 L351.77,393.34 L354.06,393.44 L356.34,393.53 L358.63,393.62 L360.92,393.70 L363.21,393.79 L365.50,393.87 L367.79,393.96 L370.08,394.04 L372.36,394.12 L374.65,394.19 L376.94,394.27 L379.23,394.34 L381.52,394.42 L383.81,394.49 L386.09,394.56 L388.38,394.62 L390.67,394.69 L392.96,394.76 L395.25,394.82 L397.54,394.88 L399.83,394.95 L402.11,395.01 L404.40,395.07 L406.69,395.12 L408.98,395.18 L411.27,395.24 L413.56,395.29 L415.84,395.34 L418.13,395.39 L420.42,395.45 L422.71,395.50 L425.00,395.54 L427.29,395.59 L429.57,395.64 L431.86,395.68 L434.15,395.73 L436.44,395.77 L438.73,395.82 L441.02,395.86 L443.31,395.90 L445.59,395.94 L447.88,395.98 L450.17,396.02 L452.46,396.05 L454.75,396.09 L457.04,396.13 L459.32,396.16 L461.61,396.19 L463.90,396.23 L466.19,396.26 L468.48,396.29 L470.77,396.32 L473.06,396.35 L475.34,396.38 L477.63,396.41 L479.92,396.44 L482.21,396.47 L484.50,396.50 L486.79,396.52 L489.07,396.55 L491.36,396.57 L493.65,396.60 L495.94,396.62 L498.23,396.64 L500.52,396.67 L502.81,396.69 L505.09,396.71 L507.38,396.73 L509.67,396.75 L511.96,396.77 L514.25,396.79 L516.54,396.81 L518.82,396.83 L521.11,396.85 L523.40,396.87 L525.69,396.88 L527.98,396.90 L530.27,396.92 L532.55,396.93 L534.84,396.95 L537.13,396.96 L539.42,396.98 L541.71,396.99 L544.00,397.01 L546.29,397.02 L548.57,397.03 L550.86,397.04 L553.15,397.06 L555.44,397.07 L557.73,397.08 L560.02,397.09 L562.30,397.10 L564.59,397.11 L566.88,397.13 L569.17,397.14 L571.46,397.15 L573.75,397.16 L576.04,397.16 L578.32,397.17 L580.61,397.18 L582.90,397.19 L585.19,397.20 L587.48,397.21 L589.77,397.22 L592.05,397.22 L594.34,397.23 L596.63,397.24 L598.92,397.25 L601.21,397.25 L603.50,397.26 L605.78,397.27 L608.07,397.27 L610.36,397.28 L612.65,397.28 L614.94,397.29 L617.23,397.29 L619.52,397.30 L621.80,397.31 L624.09,397.31 L626.38,397.32 L628.67,397.32 L630.96,397.32 L633.25,397.33 L635.53,397.33 L637.82,397.34 L640.11,397.34 L642.40,397.35" stroke="#ff00ff" stroke-dasharray="11 4 5.5 4"/>
<path d="M68.20,4.90 L68.37,9.19 L68.53,13.40 L68.70,17.55 L68.86,21.62 L69.03,25.62 L69.19,29.55 L69.36,33.42 L69.52,37.22 L69.69,40.96 L69.85,44.64 L70.02,48.26 L70.18,51.81 L70.34,55.31 L70.51,58.76 L70.67,62.15 L70.84,65.48 L71.00,68.76 L71.17,71.99 L71.34,75.17 L71.50,78.30 L71.67,81.38 L71.83,84.41 L72.00,87.40 L72.16,90.34 L72.33,93.23 L72.49,96.09 L72.66,98.89 L72.82,101.66 L72.98,104.39 L73.15,107.08 L73.31,109.72 L73.48,112.33 L73.64,114.90 L73.81,117.43 L73.98,119.93 L74.14,122.39 L74.31,124.82 L74.47,127.21 L74.64,129.57 L74.80,131.89 L74.97,134.18 L75.13,136.44 L75.30,138.67 L75.46,140.87 L75.62,143.04 L75.79,145.18 L75.95,147.29 L76.12,149.37 L76.28,151.43 L76.45,153.45 L76.62,155.45 L76.78,157.43 L76.95,159.37 L77.11,161.30 L77.28,163.19 L77.44,165.07 L77.61,166.92 L77.77,168.74 L77.94,170.54 L78.10,172.32 L78.64,178.03 L79.19,183.51 L79.73,188.78 L80.28,193.83 L80.82,198.69 L81.37,203.37 L81.91,207.86 L82.46,212.19 L83.00,216.37 L83.55,220.39 L84.09,224.27 L84.63,228.01 L85.18,231.62 L85.72,235.11 L86.27,238.48 L86.81,241.73 L87.36,244.88 L87.90,247.93 L88.45,250.88 L88.99,253.73 L89.53,256.50 L90.08,259.18 L90.62,261.77 L91.17,264.29 L91.71,266.73 L92.26,269.10 L92.80,271.40 L93.35,273.64 L93.89,275.81 L94.44,277.92 L94.98,279.96 L95.52,281.96 L96.07,283.89 L96.61,285.78 L97.16,287.61 L97.70,289.40 L98.25,291.13 L98.79,292.83 L99.34,294.47 L99.88,296.08 L100.42,297.65 L100.97,299.17 L101.51,300.66 L102.06,302.11 L102.60,303.53 L103.15,304.91 L103.69,306.26 L104.24,307.57 L104.78,308.86 L105.32,310.12 L105.87,311.34 L106.41,312.54 L106.96,313.71 L107.50,314.86 L108.05,315.98 L108.59,317.07 L109.14,318.15 L109.68,319.19 L110.23,320.22 L110.77,321.22 L111.31,322.21 L111.86,323.17 L112.40,324.11 L112.95,325.03 L113.49,325.93 L114.04,326.82 L114.58,327.69 L115.13,328.54 L115.67,329.37 L116.22,330.19 L116.76,330.99 L117.30,331.77 L117.85,332.54 L118.39,333.30 L118.94,334.04 L119.48,334.77 L120.03,335.48 L120.57,336.18 L121.12,336.87 L121.66,337.55 L122.20,338.21 L122.75,338.86 L123.29,339.50 L123.84,340.13 L124.38,340.74 L124.93,341.35 L125.47,341.95 L126.02,342.53 L126.56,343.11 L127.10,343.68 L127.65,344.23 L128.19,344.78 L128.74,345.32 L129.28,345.85 L129.83,346.37 L130.37,346.88 L130.92,347.38 L131.46,347.88 L132.01,348.37 L132.55,348.85 L133.09,349.32 L133.64,349.79 L134.18,350.24 L134.73,350.69 L135.27,351.14 L135.82,351.58 L136.36,352.01 L136.91,352.43 L137.45,352.85 L138.00,353.26 L138.54,353.67 L139.08,354.07 L139.63,354.46 L140.17,354.85 L140.72,355.23 L141.26,355.61 L141.81,355.98 L142.35,356.35 L142.90,356.71 L143.44,357.06 L143.98,357.42 L144.53,357.76 L145.07,358.10 L145.62,358.44 L146.16,358.77 L146.71,359.10 L147.25,359.43 L147.80,359.75 L148.34,360.06 L148.88,360.37 L149.43,360.68 L149.97,360.98 L150.52,361.28 L151.06,361.58 L151.61,361.87 L152.15,362.16 L152.70,362.44 L153.24,362.72 L153.79,363.00 L154.33,363.27 L154.87,363.54 L155.42,363.81 L155.96,364.08 L156.51,364.34 L157.05,364.59 L157.60,364.85 L158.14,365.10 L158.69,365.35 L159.23,365.59 L159.78,365.84 L160.32,366.08 L160.86,366.31 L161.41,366.55 L161.95,366.78 L162.50,367.01 L163.04,367.23 L163.59,367.46 L164.13,367.68 L164.68,367.90 L165.22,368.11 L165.76,368.33 L166.31,368.54 L166.85,368.75 L167.40,368.96 L167.94,369.16 L168.49,369.36 L169.03,369.56 L169.58,369.76 L170.12,369.96 L170.66,370.15 L171.21,370.34 L171.75,370.53 L172.30,370.72 L172.84,370.91 L173.39,371.09 L173.93,371.27 L174.48,371.45 L175.02,371.63 L175.57,371.81 L176.11,371.98 L176.65,372.16 L177.20,372.33 L177.74,372.50 L178.29,372.66 L178.83,372.83 L179.38,373.00 L179.92,373.16 L180.47,373.32 L181.01,373.48 L181.56,373.64 L182.10,373.80 L182.64,373.95 L183.19,374.11 L183.73,374.26 L184.28,374.41 L184.82,374.56 L185.37,374.71 L185.91,374.85 L186.46,375.00 L187.00,375.14 L189.29,375.73 L191.58,376.30 L193.87,376.85 L196.15,377.38 L198.44,377.89 L200.73,378.38 L203.02,378.86 L205.31,379.32 L207.60,379.76 L209.88,380.19 L212.17,380.61 L214.46,381.01 L216.75,381.41 L219.04,381.78 L221.33,382.15 L223.62,382.51 L225.90,382.85 L228.19,383.19 L230.48,383.52 L232.77,383.83 L235.06,384.14 L237.35,384.44 L239.63,384.73 L241.92,385.02 L244.21,385.30 L246.50,385.57 L248.79,385.83 L251.08,386.08 L253.36,386.33 L255.65,386.58 L257.94,386.81 L260.23,387.05 L262.52,387.27 L264.81,387.49 L267.10,387.71 L269.38,387.92 L271.67,388.12 L273.96,388.32 L276.25,388.52 L278.54,388.71 L280.83,388.90 L283.11,389.08 L285.40,389.26 L287.69,389.44 L289.98,389.61 L292.27,389.77 L294.56,389.94 L296.85,390.10 L299.13,390.26 L301.42,390.41 L303.71,390.56 L306.00,390.71 L308.29,390.85 L310.58,390.99 L312.86,391.13 L315.15,391.27 L317.44,391.40 L319.73,391.53 L322.02,391.66 L324.31,391.78 L326.59,391.90 L328.88,392.02 L331.17,392.14 L333.46,392.26 L335.75,392.37 L338.04,392.48 L340.33,392.59 L342.61,392.69 L344.90,392.80 L347.19,392.90 L349.48,393.00 L351.77,393.10 L354.06,393.19 L356.34,393.29 L358.63,393.38 L360.92,393.47 L363.21,393.56 L365.50,393.65 L367.79,393.73 L370.08,393.81 L372.36,393.90 L374.65,393.98 L376.94,394.05 L379.23,394.13 L381.52,394.21 L383.81,394.28 L386.09,394.35 L388.38,394.42 L390.67,394.49 L392.96,394.56 L395.25,394.63 L397.54,394.69 L399.83,394.76 L402.11,394.82 L404.40,394.88 L406.69,394.94 L408.98,395.00 L411.27,395.06 L413.56,395.12 L415.84,395.17 L418.13,395.23 L420.42,395.28 L422.71,395.33 L425.00,395.38 L427.29,395.43 L429.57,395.48 L431.86,395.53 L434.15,395.58 L436.44,395.62 L438.73,395.67 L441.02,395.71 L443.31,395.76 L445.59,395.80 L447.88,395.84 L450.17,395.88 L452.46,395.92 L454.75,395.96 L457.04,396.00 L459.32,396.03 L461.61,396.07 L463.90,396.11 L466.19,396.14 L468.48,396.17 L470.77,396.21 L473.06,396.24 L475.34,396.27 L477.63,396.30 L479.92,396.33 L482.21,396.36 L484.50,396.39 L486.79,396.42 L489.07,396.45 L491.36,396.47 L493.65,396.50 L495.94,396.53 L498.23,396.55 L500.52,396.58 L502.81,396.60 L505.09,396.62 L507.38,396.65 L509.67,396.67 L511.96,396.69 L514.25,396.71 L516.54,396.73 L518.82,396.75 L521.11,396.77 L523.40,396.79 L525.69,396.81 L527.98,396.83 L530.27,396.85 L532.55,396.86 L534.84,396.88 L537.13,396.90 L539.42,396.91 L541.71,396.93 L544.00,396.94 L546.29,396.96 L548.57,396.97 L550.86,396.99 L553.15,397.00 L555.44,397.01 L557.73,397.03 L560.02,397.04 L562.30,397.05 L564.59,397.06 L566.88,397.08 L569.17,397.09 L571.46,397.10 L573.75,397.11 L576.04,397.12 L578.32,397.13 L580.61,397.14 L582.90,397.15 L585.19,397.16 L587.48,397.17 L589.77,397.18 L592.05,397.19 L594.34,397.19 L596.63,397.20 L598.92,397.21 L601.21,397.22 L603.50,397.23 L605.78,397.23 L608.07,397.24 L610.36,397.25 L612.65,397.25 L614.94,397.26 L617.23,397.27 L619.52,397.27 L621.80,397.28 L624.09,397.28 L626.38,397.29 L628.67,397.29 L630.96,397.30 L633.25,397.30 L635.53,397.31 L637.82,397.31 L640.11,397.32 L642.40,397.32" stroke="#ff0000"/>
</g>
<g fill="#1a1a1a" stroke="#1a1a1a" stroke-width="0.3"><text transform="translate(51.44,403.25) scale(1.05,1)" font-family="Liberation Sans" font-size="15" letter-spacing="1.05">0</text><text transform="translate(36.10,364.00) scale(1.05,1)" font-family="Liberation Sans" font-size="15" letter-spacing="1.05">0. </text><path transform="translate(51.44,364.00) scale(0.00769,-0.00732)" d="M763,0 L583,0 L583,1128 Q420,990 223,915 L223,1090 Q450,1190 640,1409 L763,1409 Z" vector-effect="non-scaling-stroke"/><text transform="translate(36.10,324.74) scale(1.05,1)" font-family="Liberation Sans" font-size="15" letter-spacing="1.05">0.2</text><text transform="translate(36.10,285.49) scale(1.05,1)" font-family="Liberation Sans" font-size="15" letter-spacing="1.05">0.3</text><text transform="translate(36.10,246.23) scale(1.05,1)" font-family="Liberation Sans" font-size="15" letter-spacing="1.05">0.4</text><text transform="translate(36.10,206.97) scale(1.05,1)" font-family="Liberation Sans" font-size="15" letter-spacing="1.05">0.5</text><text transform="translate(36.10,167.72) scale(1.05,1)" font-family="Liberation Sans" font-size="15" letter-spacing="1.05">0.6</text><text transform="translate(36.10,128.47) scale(1.05,1)" font-family="Liberation Sans" font-size="15" letter-spacing="1.05">0.7</text><text transform="translate(36.10,89.21) scale(1.05,1)" font-family="Liberation Sans" font-size="15" letter-spacing="1.05">0.8</text><text transform="translate(36.10,49.95) scale(1.05,1)" font-family="Liberation Sans" font-size="15" letter-spacing="1.05">0.9</text><text transform="translate(51.44,10.70) scale(1.05,1)" font-family="Liberation Sans" font-size="15" letter-spacing="1.05"> </text><path transform="translate(51.44,10.70) scale(0.00769,-0.00732)" d="M763,0 L583,0 L583,1128 Q420,990 223,915 L223,1090 Q450,1190 640,1409 L763,1409 Z" vector-effect="non-scaling-stroke"/><text transform="translate(135.40,419.90) scale(1.05,1)" font-family="Liberation Sans" font-size="15" letter-spacing="1.05">0.5</text><text transform="translate(242.07,419.90) scale(1.05,1)" font-family="Liberation Sans" font-size="15" letter-spacing="1.05"> </text><path transform="translate(242.07,419.90) scale(0.00769,-0.00732)" d="M763,0 L583,0 L583,1128 Q420,990 223,915 L223,1090 Q450,1190 640,1409 L763,1409 Z" vector-effect="non-scaling-stroke"/><text transform="translate(333.40,419.90) scale(1.05,1)" font-family="Liberation Sans" font-size="15" letter-spacing="1.05"> .5</text><path transform="translate(333.40,419.90) scale(0.00769,-0.00732)" d="M763,0 L583,0 L583,1128 Q420,990 223,915 L223,1090 Q450,1190 640,1409 L763,1409 Z" vector-effect="non-scaling-stroke"/><text transform="translate(440.07,419.90) scale(1.05,1)" font-family="Liberation Sans" font-size="15" letter-spacing="1.05">2</text><text transform="translate(531.40,419.90) scale(1.05,1)" font-family="Liberation Sans" font-size="15" letter-spacing="1.05">2.5</text><text transform="translate(638.07,419.90) scale(1.05,1)" font-family="Liberation Sans" font-size="15" letter-spacing="1.05">3</text></g>
<text transform="translate(342.40,439.40) scale(1.25,1)" font-family="Liberation Serif" font-size="27" text-anchor="middle" font-style="italic" fill="#000" stroke="#fff" stroke-width="0.35">η</text>
<g fill="#000" font-family="Liberation Serif" font-style="italic" font-size="31.6"><text transform="translate(23.2,199.8) rotate(-90)" stroke="#fff" stroke-width="0.35">η</text></g>
<ellipse cx="16.2" cy="217.1" rx="7.3" ry="6.0" transform="rotate(32 16.2 217.1)" fill="none" stroke="#000" stroke-width="1.5"/>
<path d="M1.3,213.6 L29.6,219.7" stroke="#000" stroke-width="1.1"/>
<path d="M0,199.8 A14.5,6.5 0 0 0 29,199.8 L27.8,199.8 A13.3,4.1 0 0 1 1.2,199.8 Z" fill="#000" stroke="#000" stroke-width="0.4"/>
<path d="M0,185.3 A14.5,7.2 0 0 1 29,185.3 L27.8,185.3 A13.3,4.8 0 0 0 1.2,185.3 Z" fill="#000" stroke="#000" stroke-width="0.4"/>
<rect x="165.5" y="205.5" width="129" height="27" fill="#fff" stroke="#262626" stroke-width="1"/>
<text transform="translate(174.20,226.20) scale(1.0,1)" font-family="Liberation Serif" font-size="16" font-style="italic" fill="#000">δ</text>
<text transform="translate(186.60,226.00) scale(1.12,1)" font-family="Liberation Sans" font-size="14" fill="#000" stroke="#000" stroke-width="0.35">=</text>
<g stroke="#000" stroke-width="0.3"><text transform="translate(202.60,226.30) scale(1.045,1)" font-family="Liberation Sans" font-size="15" letter-spacing="0.72" fill="#000"> .0,</text><path transform="translate(202.60,226.30) scale(0.00765,-0.00732)" d="M763,0 L583,0 L583,1128 Q420,990 223,915 L223,1090 Q450,1190 640,1409 L763,1409 Z" fill="#000" vector-effect="non-scaling-stroke"/><text transform="translate(237.30,226.30) scale(1.045,1)" font-family="Liberation Sans" font-size="15" letter-spacing="0.72" fill="#000"> . </text><path transform="translate(237.30,226.30) scale(0.00765,-0.00732)" d="M763,0 L583,0 L583,1128 Q420,990 223,915 L223,1090 Q450,1190 640,1409 L763,1409 Z" fill="#000" vector-effect="non-scaling-stroke"/><path transform="translate(251.88,226.30) scale(0.00765,-0.00732)" d="M763,0 L583,0 L583,1128 Q420,990 223,915 L223,1090 Q450,1190 640,1409 L763,1409 Z" fill="#000" vector-effect="non-scaling-stroke"/></g>
<path d="M203.9,232.5 L125.5,372" stroke="#000" stroke-width="1"/>
<path d="M119.6,382.6 L121.9,365.5 L125.2,372.6 L133.7,371.5 Z" fill="#000"/>
<rect x="416.8" y="114.9" width="208.7" height="127.5" fill="#fff"/>
<g clip-path="url(#ci)" fill="none" stroke-width="3.30">
<path d="M400.00,153.54 L530.00,261.57" stroke="#0000ff" stroke-dasharray="11 13.5" stroke-dashoffset="2.19"/>
<path d="M400.00,141.26 L530.00,249.94" stroke="#ff00ff" stroke-dasharray="11 4 5.5 4" stroke-dashoffset="2.08"/>
<path d="M400.00,127.09 L545.00,248.89" stroke="#ff0000"/>
<path d="M450.00,100.19 L572.50,207.60 L640.00,251.81" stroke="#0000ff" stroke-dasharray="11 13.5" stroke-dashoffset="2.19"/>
<path d="M460.00,98.77 L572.50,194.90 L640.00,238.30" stroke="#ff00ff" stroke-dasharray="11 4 5.5 4" stroke-dashoffset="23.12"/>
<path d="M480.00,101.83 L573.00,181.20 L640.00,225.08" stroke="#ff0000"/>
</g>
<rect x="416.8" y="114.9" width="208.7" height="127.5" fill="none" stroke="#262626" stroke-width="1"/>
<path d="M430.3,242.4 v-2.8 M430.3,114.9 v2.8" stroke="#262626"/>
<path d="M485.6,242.4 v-2.8 M485.6,114.9 v2.8" stroke="#262626"/>
<path d="M540.9,242.4 v-2.8 M540.9,114.9 v2.8" stroke="#262626"/>
<path d="M596.3,242.4 v-2.8 M596.3,114.9 v2.8" stroke="#262626"/>
<path d="M416.8,121 h2.8 M625.5,121 h-2.8" stroke="#262626"/>
<path d="M416.8,170.1 h2.8 M625.5,170.1 h-2.8" stroke="#262626"/>
<path d="M416.8,219.2 h2.8 M625.5,219.2 h-2.8" stroke="#262626"/>
<g fill="#1a1a1a" stroke="#1a1a1a" stroke-width="0.3"><text transform="translate(374.54,126.70) scale(1.05,1)" font-family="Liberation Sans" font-size="15" letter-spacing="1.05">0. 4</text><path transform="translate(389.88,126.70) scale(0.00769,-0.00732)" d="M763,0 L583,0 L583,1128 Q420,990 223,915 L223,1090 Q450,1190 640,1409 L763,1409 Z" vector-effect="non-scaling-stroke"/><text transform="translate(374.54,175.80) scale(1.05,1)" font-family="Liberation Sans" font-size="15" letter-spacing="1.05">0. 3</text><path transform="translate(389.88,175.80) scale(0.00769,-0.00732)" d="M763,0 L583,0 L583,1128 Q420,990 223,915 L223,1090 Q450,1190 640,1409 L763,1409 Z" vector-effect="non-scaling-stroke"/><text transform="translate(374.54,224.90) scale(1.05,1)" font-family="Liberation Sans" font-size="15" letter-spacing="1.05">0. 2</text><path transform="translate(389.88,224.90) scale(0.00769,-0.00732)" d="M763,0 L583,0 L583,1128 Q420,990 223,915 L223,1090 Q450,1190 640,1409 L763,1409 Z" vector-effect="non-scaling-stroke"/><text transform="translate(418.30,265.10) scale(1.05,1)" font-family="Liberation Sans" font-size="15" letter-spacing="1.05">0.4</text><text transform="translate(468.67,265.10) scale(1.05,1)" font-family="Liberation Sans" font-size="15" letter-spacing="1.05">0.42</text><text transform="translate(523.97,265.10) scale(1.05,1)" font-family="Liberation Sans" font-size="15" letter-spacing="1.05">0.44</text><text transform="translate(579.37,265.10) scale(1.05,1)" font-family="Liberation Sans" font-size="15" letter-spacing="1.05">0.46</text></g>
<rect x="417.5" y="20.5" width="207" height="71" fill="#fff" stroke="#262626" stroke-width="1"/>
<path d="M422.9,31.6 h13.1 M449,31.6 h13.7" stroke="#0000ff" stroke-width="3"/>
<path d="M422.9,53.1 h13.1 M439.2,53.1 h6.7 M449,53.1 h13.7" stroke="#ff00ff" stroke-width="3"/>
<path d="M422.9,77.7 h39.8" stroke="#ff0000" stroke-width="3.3"/>
<g fill="#000" stroke="#000" stroke-width="0.35">
<text transform="translate(466.30,36.80) scale(1.145,1)" font-family="Liberation Sans" font-size="13.8">Cu/Water</text>
<text transform="translate(466.30,55.50) scale(1.145,1)" font-family="Liberation Sans" font-size="13.8">Cu-Al<tspan dx="0.9" dy="7.1" font-size="11">2</tspan><tspan dy="-7.1">O</tspan><tspan dx="0.9" dy="7.1" font-size="11">3</tspan><tspan dy="-7.1">/Water</tspan></text>
<text transform="translate(466.30,80.10) scale(1.145,1)" font-family="Liberation Sans" font-size="13.8">Cu-Al<tspan dx="0.9" dy="7.1" font-size="11">2</tspan><tspan dy="-7.1">O</tspan><tspan dx="0.9" dy="7.1" font-size="11">3</tspan><tspan dy="-7.1">-TiO</tspan><tspan dx="0.9" dy="7.1" font-size="11">2</tspan><tspan dy="-7.1">/Water</tspan></text>
</g>
</svg></div></body></html>
